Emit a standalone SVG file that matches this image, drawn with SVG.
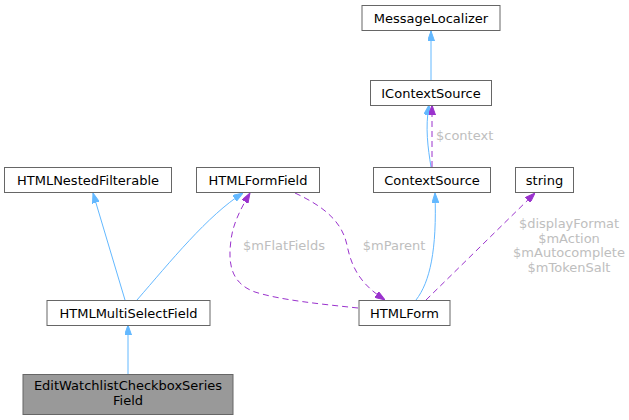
<svg xmlns="http://www.w3.org/2000/svg" width="629" height="420" viewBox="0 0 629 420">
<style>
.node rect{fill:#ffffff;stroke:#666666;stroke-width:1}
.node.hl rect{fill:#999999}
.node text{font-family:"DejaVu Sans",sans-serif;font-size:13px;fill:#000000;text-anchor:middle}
.e{fill:none;stroke-width:1}
.inh{stroke:#63b8ff;marker-end:url(#ab)}
.use{stroke:#9a32cd;stroke-dasharray:6,4;marker-end:url(#ap)}
.lbl{font-family:"DejaVu Sans",sans-serif;font-size:13px;fill:#bebebe}
</style>
<defs>
<marker id="ab" viewBox="0 0 10 7" refX="10" refY="3.5" markerWidth="10" markerHeight="7" markerUnits="userSpaceOnUse" orient="auto"><path d="M0,0 L10,3.5 L0,7 z" fill="#63b8ff" stroke="#63b8ff"/></marker>
<marker id="ap" viewBox="0 0 10 7" refX="10" refY="3.5" markerWidth="10" markerHeight="7" markerUnits="userSpaceOnUse" orient="auto"><path d="M0,0 L10,3.5 L0,7 z" fill="#9a32cd" stroke="#9a32cd"/></marker>
</defs>
<rect width="629" height="420" fill="#ffffff"/>
<g id="edges">
<path class="e inh" d="M431,80 L431,31"/>
<path class="e inh" d="M431,167 C428,148 425,128 429,105"/>
<path class="e use" d="M432,167 L432,105"/>
<text class="lbl" x="436" y="140">$context</text>
<path class="e inh" d="M416,300 C430,282 437,250 435,193"/>
<path class="e use" d="M426,300 L535,193"/>
<text class="lbl" text-anchor="middle" x="569" y="228">$displayFormat</text>
<text class="lbl" text-anchor="middle" x="569" y="242.5">$mAction</text>
<text class="lbl" text-anchor="middle" x="569" y="257">$mAutocomplete</text>
<text class="lbl" text-anchor="middle" x="569" y="271.5">$mTokenSalt</text>
<path class="e inh" d="M125,300 L93,193"/>
<path class="e inh" d="M137,300 C170,262 208,215 243,193"/>
<path class="e inh" d="M128,374 L128,325"/>
<path class="e use" d="M295,193 C325,207 342,222 347,245 C352,270 362,285 385,300"/>
<text class="lbl" text-anchor="middle" x="394" y="250">$mParent</text>
<path class="e use" d="M358,308 C320,304 280,300 255,292 C230,283 228,262 231,240 C233,222 243,205 250,193"/>
<text class="lbl" text-anchor="middle" x="284" y="250">$mFlatFields</text>
</g>
<g id="MessageLocalizer" class="node"><rect x="362" y="5.5" width="138" height="25"/><text x="431" y="22.5">MessageLocalizer</text></g>
<g id="IContextSource" class="node"><rect x="370.5" y="80.5" width="121" height="25"/><text x="431" y="97.5">IContextSource</text></g>
<g id="ContextSource" class="node"><rect x="373.5" y="167.5" width="117" height="25"/><text x="432" y="184.5">ContextSource</text></g>
<g id="string" class="node"><rect x="515.5" y="167.5" width="58" height="25"/><text x="544.5" y="184.5">string</text></g>
<g id="HTMLNestedFilterable" class="node"><rect x="4.5" y="167.5" width="167" height="25"/><text x="88" y="184.5">HTMLNestedFilterable</text></g>
<g id="HTMLFormField" class="node"><rect x="196.5" y="167.5" width="123" height="25"/><text x="258" y="184.5">HTMLFormField</text></g>
<g id="HTMLMultiSelectField" class="node"><rect x="47" y="300.5" width="163" height="25"/><text x="128.5" y="317.5">HTMLMultiSelectField</text></g>
<g id="HTMLForm" class="node"><rect x="359" y="300.5" width="91" height="25"/><text x="404.5" y="317.5">HTMLForm</text></g>
<g id="EditWatchlistCheckboxSeriesField" class="node hl"><rect x="23" y="374.5" width="210" height="40"/><text x="128" y="390">EditWatchlistCheckboxSeries</text><text x="128" y="405">Field</text></g>
</svg>
